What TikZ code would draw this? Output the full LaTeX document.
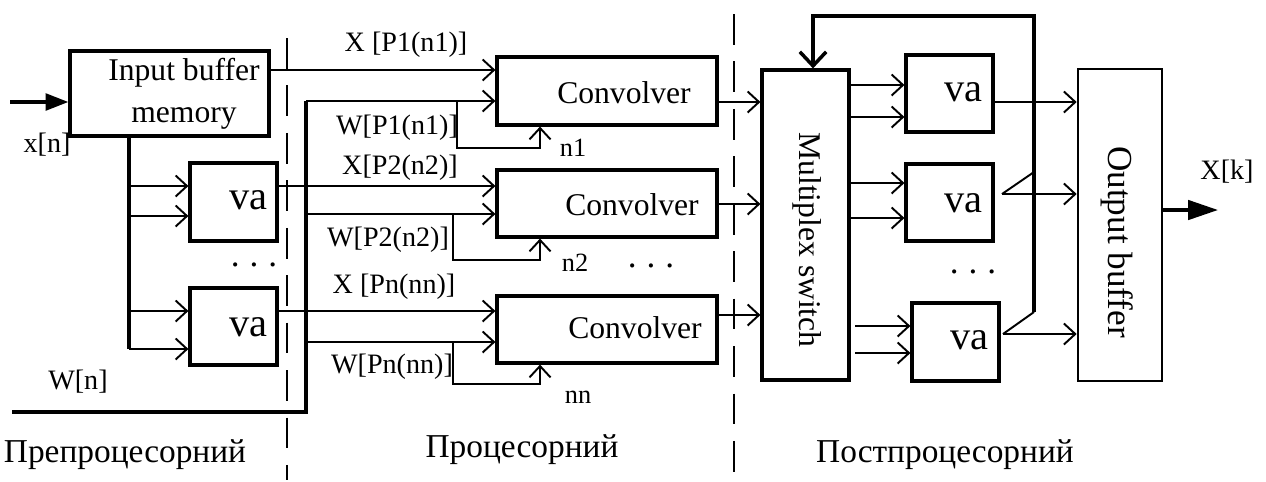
\documentclass[tikz,border=0pt]{standalone}
\usepackage{fontspec}
\setmainfont{Liberation Serif}
\usetikzlibrary{arrows.meta,calc}
\newdimen\pxu \pxu=0.02cm
\begin{document}
\begin{tikzpicture}[x=0.02cm,y=-0.02cm,
  box/.style={draw, line width=1.8pt, inner sep=0pt},
  ln/.style={line width=1.1pt},
  arr/.style={ln, -{Straight Barb[length=6.5pt,width=12pt]}},
  thk/.style={line width=2pt},
  sep/.style={line width=0.9pt, dash pattern=on 17.5pt off 9.5pt},
  txt/.style={inner sep=0pt, font=\fontsize{18}{24}\selectfont},
  vat/.style={inner sep=0pt, anchor=east, font=\fontsize{23}{25}\selectfont},
  sig/.style={inner sep=0pt, font=\fontsize{16}{18}\selectfont},
  sml/.style={inner sep=0pt, font=\fontsize{15}{17}\selectfont},
  bot/.style={inner sep=0pt, font=\fontsize{19}{22}\selectfont},
  dots/.style={inner sep=0pt, anchor=base, font=\fontsize{20}{22}\selectfont}
]
\useasboundingbox (0,0) rectangle (1266,481);

% boxes
\node[box, minimum width=199\pxu, minimum height=85\pxu] (ibuf) at (169.5,93.5) {};
\node[box, minimum width=87\pxu, minimum height=78\pxu] (va1) at (233.5,202) {};
\node[box, minimum width=87\pxu, minimum height=77\pxu] (va2) at (233.5,326.5) {};
\node[box, minimum width=220\pxu, minimum height=68\pxu] (conv1) at (607,91) {};
\node[box, minimum width=220\pxu, minimum height=67\pxu] (conv2) at (607,203.5) {};
\node[box, minimum width=220\pxu, minimum height=67\pxu] (conv3) at (607,329.5) {};
\node[box, minimum width=87\pxu, minimum height=310\pxu] (mux) at (805.5,225) {};
\node[box, minimum width=87\pxu, minimum height=77\pxu] (vr1) at (949.5,93.5) {};
\node[box, minimum width=87\pxu, minimum height=77\pxu] (vr2) at (949.5,202.5) {};
\node[box, minimum width=87\pxu, minimum height=78\pxu] (vr3) at (955.5,342) {};
\node[box, line width=1.5pt, minimum width=84\pxu, minimum height=312\pxu] (obuf) at (1120,225) {};

% box texts
\node[txt, align=center] (ibuft) at (184,94) {Input buffer\\memory};
\node[vat] (va1t) at (268,200) {va};
\node[vat] (va2t) at (268,327) {va};
\node[txt] (c1t) at (624,93) {Convolver};
\node[txt] (c2t) at (632,205) {Convolver};
\node[txt] (c3t) at (635,328) {Convolver};
\node[txt, rotate=-90] (muxt) at (807,240) {Multiplex switch};
\node[vat] (vr1t) at (983,92) {va};
\node[vat] (vr2t) at (983,203) {va};
\node[vat] (vr3t) at (989,340) {va};
\node[txt, rotate=-90, font=\fontsize{20}{24}\selectfont] (obuft) at (1117,242) {Output buffer};

% signal labels
\node[sig] (lxn) at (47,145) {x[n]};
\node[sig] (lwn) at (78,382) {W[n]};
\node[sig] (lx1) at (406,45) {X [P1(n1)]};
\node[sig] (lw1) at (397,128) {W[P1(n1)]};
\node[sig] (lx2) at (400,168) {X[P2(n2)]};
\node[sig] (lw2) at (388,240) {W[P2(n2)]};
\node[sig] (lx3) at (394,287) {X [Pn(nn)]};
\node[sig] (lw3) at (392,367) {W[Pn(nn)]};
\node[sml] (ln1) at (573,148) {n1};
\node[sml] (ln2) at (575,263) {n2};
\node[sml] (lnn) at (578,397) {nn};
\node[sig] (lxk) at (1227,172) {X[k]};

% dots
\node[dots] (d1) at (254,266) {.\hspace{0.2cm}.\hspace{0.2cm}.};
\node[dots] (d2) at (651,267) {.\hspace{0.2cm}.\hspace{0.2cm}.};
\node[dots] (d3) at (973,273) {.\hspace{0.2cm}.\hspace{0.2cm}.};

% bottom labels
\node[bot] (b1) at (125,455) {Препроцесорний};
\node[bot] (b2) at (522,450) {Процесорний};
\node[bot] (b3) at (945,455) {Постпроцесорний};

% separators
\coordinate (s1a) at (287,38);
\coordinate (s1b) at (287,480);
\coordinate (s2a) at (734,14);
\coordinate (s2b) at (734,480);
\draw[sep] (s1a) -- (s1b);
\draw[sep] (s2a) -- (s2b);

% x[n] input
\coordinate (xs) at (10,102);
\draw[thk, -{Triangle[length=13pt,width=9.5pt]}] (xs) -- (ibuf.west |- xs);

% bus from input buffer to va
\coordinate (bt) at (129,349);
\draw[thk] (ibuf.south -| bt) -- (bt);
\draw[arr] (129,186) -- (va1.west |- 0,186);
\draw[arr] (129,216) -- (va1.west |- 0,216);
\draw[arr] (129,311) -- (va2.west |- 0,311);
\draw[arr] (bt) -- (va2.west |- bt);

% X lines
\draw[arr] (ibuf.east |- 0,70) -- (conv1.west |- 0,70);
\draw[arr] (va1.east |- 0,186) -- (conv2.west |- 0,186);
\draw[arr] (va2.east |- 0,311) -- (conv3.west |- 0,311);

% W bus
\coordinate (ws) at (12,412);
\coordinate (wc) at (306,412);
\draw[line width=2.2pt] (ws) -- (wc) -- (306,101);
\draw[arr] (306,101) -- (conv1.west |- 0,101);
\draw[arr] (306,214) -- (conv2.west |- 0,214);
\draw[arr] (306,342) -- (conv3.west |- 0,342);
\draw[arr] (457,101) -- (457,148) -- (540,148) -- (conv1.south -| 540,0);
\draw[arr] (453,214) -- (453,260) -- (540,260) -- (conv2.south -| 540,0);
\draw[arr] (453,342) -- (453,384) -- (540,384) -- (conv3.south -| 540,0);

% convolver outputs
\draw[arr] (conv1.east |- 0,102) -- (mux.west |- 0,102);
\draw[arr] (conv2.east |- 0,204) -- (mux.west |- 0,204);
\draw[arr] (conv3.east |- 0,315) -- (mux.west |- 0,315);

% mux outputs
\draw[arr] (mux.east |- 0,85) -- (vr1.west |- 0,85);
\draw[arr] (mux.east |- 0,117) -- (vr1.west |- 0,117);
\draw[arr] (mux.east |- 0,183) -- (vr2.west |- 0,183);
\draw[arr] (mux.east |- 0,218) -- (vr2.west |- 0,218);
\draw[arr] (855,326) -- (vr3.west |- 0,326);
\draw[arr] (855,353) -- (vr3.west |- 0,353);

% va outputs to output buffer
\coordinate (o2) at (1002,194);
\coordinate (o3) at (1003,334);
\draw[arr] (vr1.east |- 0,102) -- (obuf.west |- 0,102);
\draw[arr] (o2) -- (obuf.west |- o2);
\draw[arr] (o3) -- (obuf.west |- o3);

% feedback
\coordinate (f2) at (1034,172);
\coordinate (f3) at (1034,312);
\coordinate (ftr) at (1034,16);
\coordinate (ftl) at (813,16);
\draw[ln] (o2) -- (f2);
\draw[ln] (o3) -- (f3);
\draw[line width=2pt, -{Straight Barb[length=8pt,width=15pt]}] (f3) -- (ftr) -- (ftl) -- (mux.north -| ftl);

% output
\coordinate (xk) at (1218,210);
\draw[thk, -{Triangle[length=17pt,width=11pt]}] (obuf.east |- xk) -- (xk);
\end{tikzpicture}
\end{document}
